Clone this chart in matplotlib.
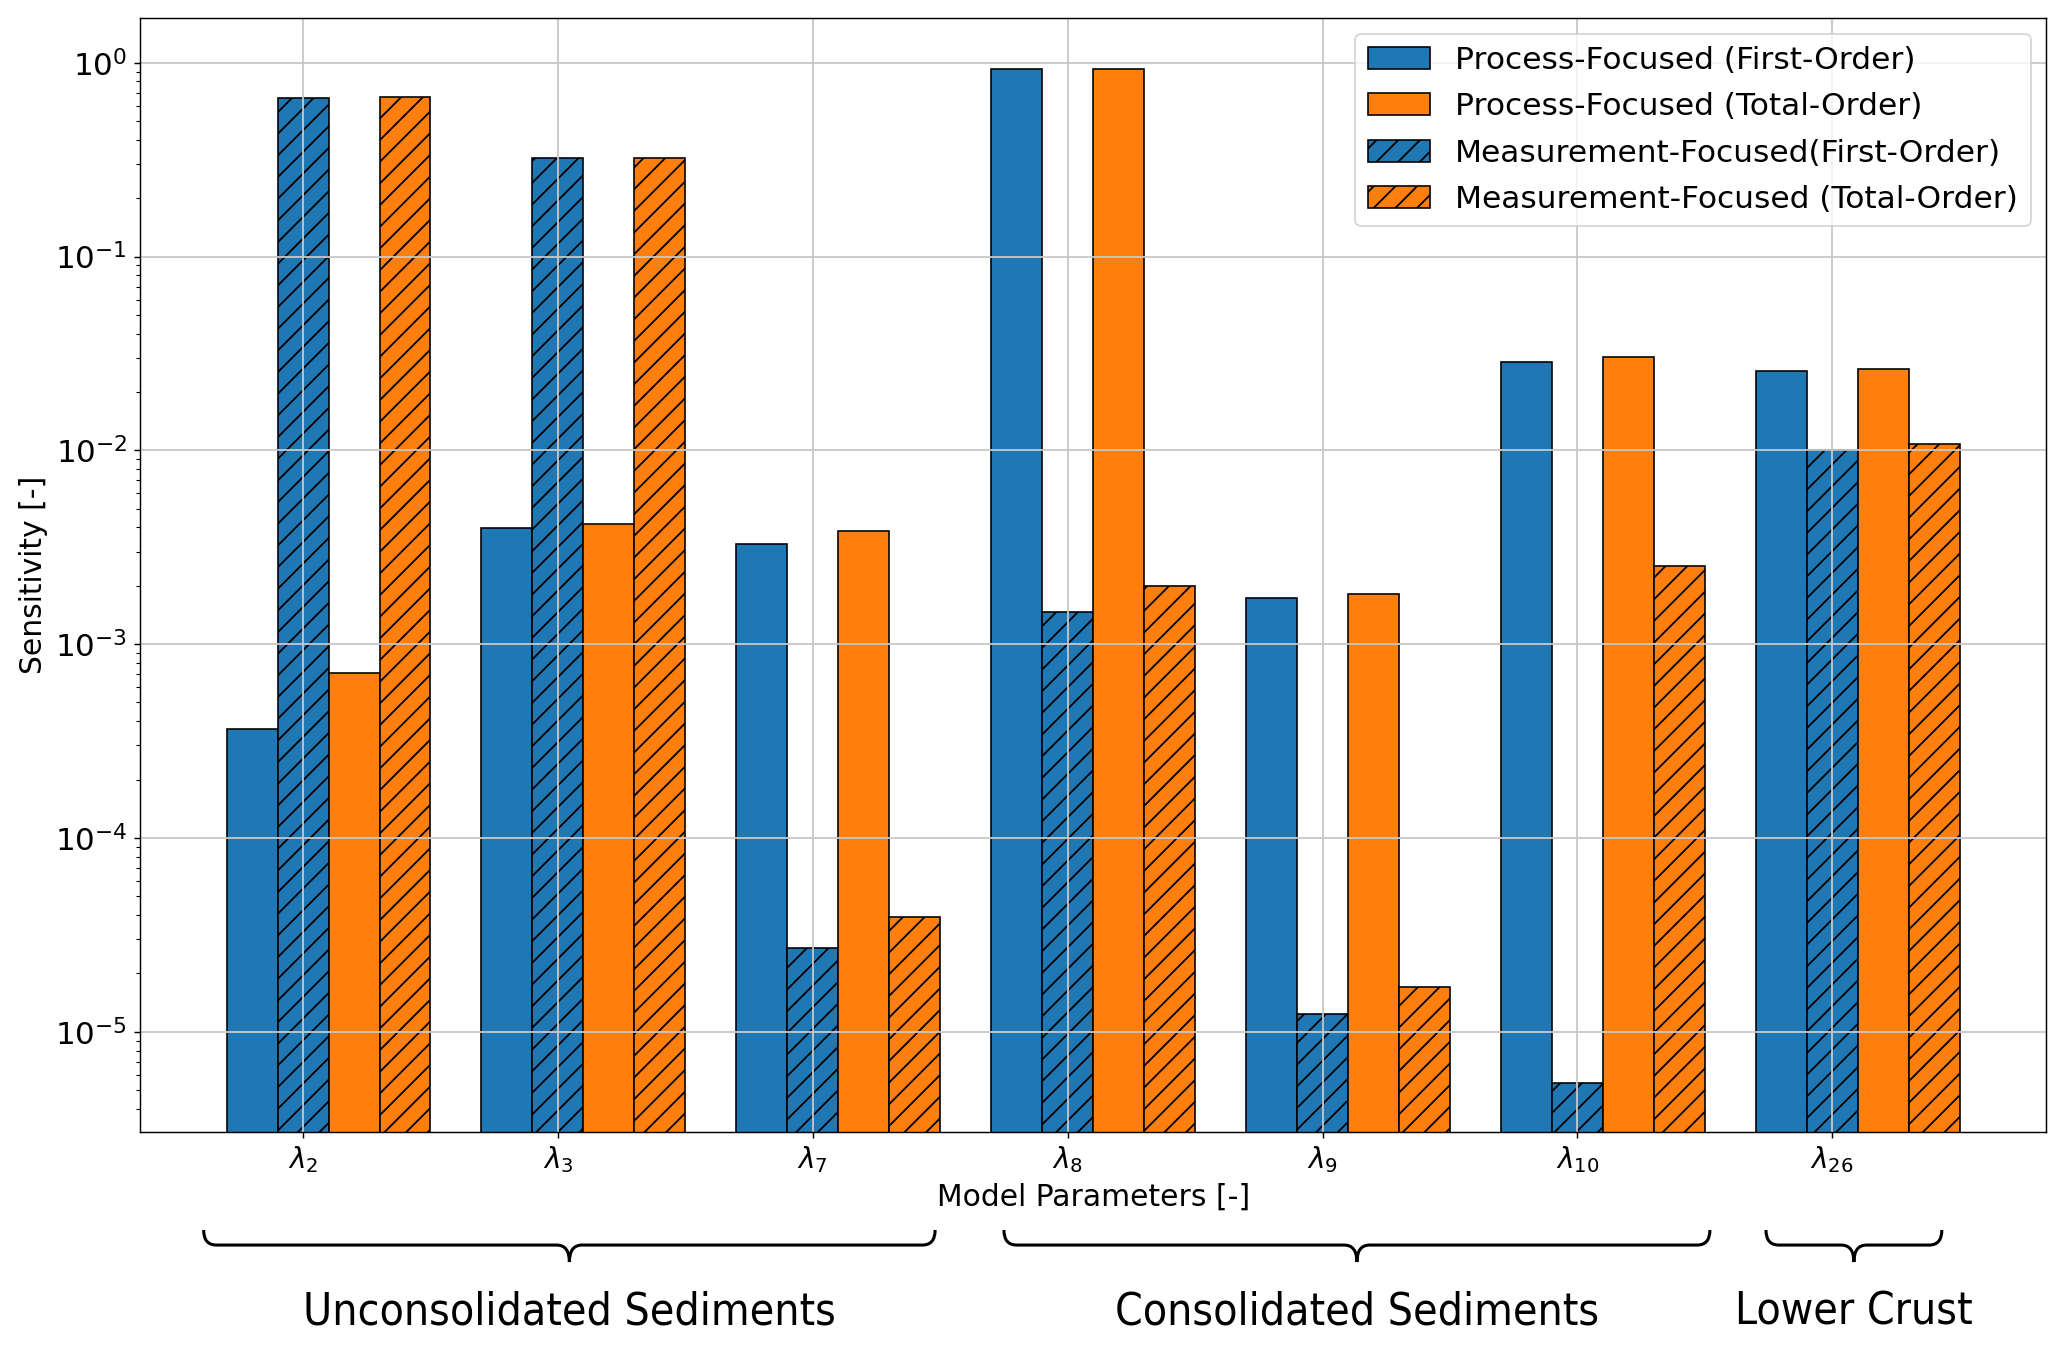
import matplotlib
matplotlib.use("Agg")
import matplotlib.pyplot as plt
import numpy as np
from matplotlib.path import Path
from matplotlib.patches import PathPatch
import matplotlib.transforms as mtransforms
from matplotlib import font_manager

params = ["2", "3", "7", "8", "9", "10", "26"]
process_first = [3.67e-4, 3.97e-3, 3.29e-3, 0.925, 1.73e-3, 0.0286, 0.0256]
meas_first = [0.655, 0.324, 2.72e-5, 1.46e-3, 1.23e-5, 5.43e-6, 0.0100]
process_total = [7.08e-4, 4.16e-3, 3.85e-3, 0.93, 1.82e-3, 0.0304, 0.0264]
meas_total = [0.665, 0.324, 3.91e-5, 2.0e-3, 1.70e-5, 2.52e-3, 0.0108]

groups = ["Unconsolidated Sediments", "Consolidated Sediments", "Lower Crust"]
group_spans = [(-0.39, 2.48), (2.75, 5.52), (5.74, 6.43)]

blue = "#1f77b4"
orange = "#ff7f0e"

DPI = 130
fig = plt.figure(figsize=(2067 / DPI, 1346 / DPI), dpi=DPI)
ax = fig.add_axes([0.0677, 0.159, 0.9223, 0.8276])

x = np.arange(len(params))
w = 0.2
ax.bar(x - w, process_first, w, color=blue, edgecolor="black", lw=0.9,
       label="Process-Focused (First-Order)")
ax.bar(x, meas_first, w, color=blue, edgecolor="black", lw=0.9, hatch="//",
       label="Measurement-Focused(First-Order)")
ax.bar(x + w, process_total, w, color=orange, edgecolor="black", lw=0.9,
       label="Process-Focused (Total-Order)")
ax.bar(x + 2 * w, meas_total, w, color=orange, edgecolor="black", lw=0.9, hatch="//",
       label="Measurement-Focused (Total-Order)")

ax.set_yscale("log")
ax.set_ylim(3.04e-6, 1.7)
ax.set_xticks(x)
ax.set_xticklabels([r"$\lambda_{%s}$" % p for p in params])
ax.tick_params(axis="x", labelsize=15.5)
ax.tick_params(axis="y", labelsize=17.2)
ax.grid(True, color="#c8c8c8", lw=1.0)
ax.set_xlabel("Model Parameters [-]", fontsize=16.5)
ax.set_ylabel("Sensitivity [-]", fontsize=16.5)

handles, labels = ax.get_legend_handles_labels()
order = [0, 2, 1, 3]
ax.legend([handles[i] for i in order], [labels[i] for i in order],
          loc="upper right", fontsize=17.3, labelspacing=0.55)

# condensed font for the group names if there is one
fp = font_manager.FontProperties(family="DejaVu Sans", stretch="condensed")
if "Condensed" in font_manager.findfont(fp):
    group_font = dict(family="DejaVu Sans", stretch="condensed", fontsize=24.5)
else:
    group_font = dict(fontsize=22)

# braces under the axis
trans = mtransforms.blended_transform_factory(ax.transData, fig.transFigure)
ytop, ymid, ybot = 0.0862, 0.075, 0.0624
r = 0.05
for name, (x0, x1) in zip(groups, group_spans):
    xc = (x0 + x1) / 2
    verts = [(x0, ytop), (x0, ymid), (x0 + r, ymid), (xc - r, ymid),
             (xc, ymid), (xc, ybot), (xc, ymid), (xc + r, ymid),
             (x1 - r, ymid), (x1, ymid), (x1, ytop)]
    codes = [Path.MOVETO, Path.CURVE3, Path.CURVE3, Path.LINETO,
             Path.CURVE3, Path.CURVE3, Path.CURVE3, Path.CURVE3,
             Path.LINETO, Path.CURVE3, Path.CURVE3]
    brace = PathPatch(Path(verts, codes), transform=trans, fill=False,
                      lw=1.7, edgecolor="black", clip_on=False)
    ax.add_patch(brace)
    ax.text(xc, 0.025, name, transform=trans, ha="center", va="center",
            clip_on=False, **group_font)

fig.savefig("out.png", dpi=DPI)
